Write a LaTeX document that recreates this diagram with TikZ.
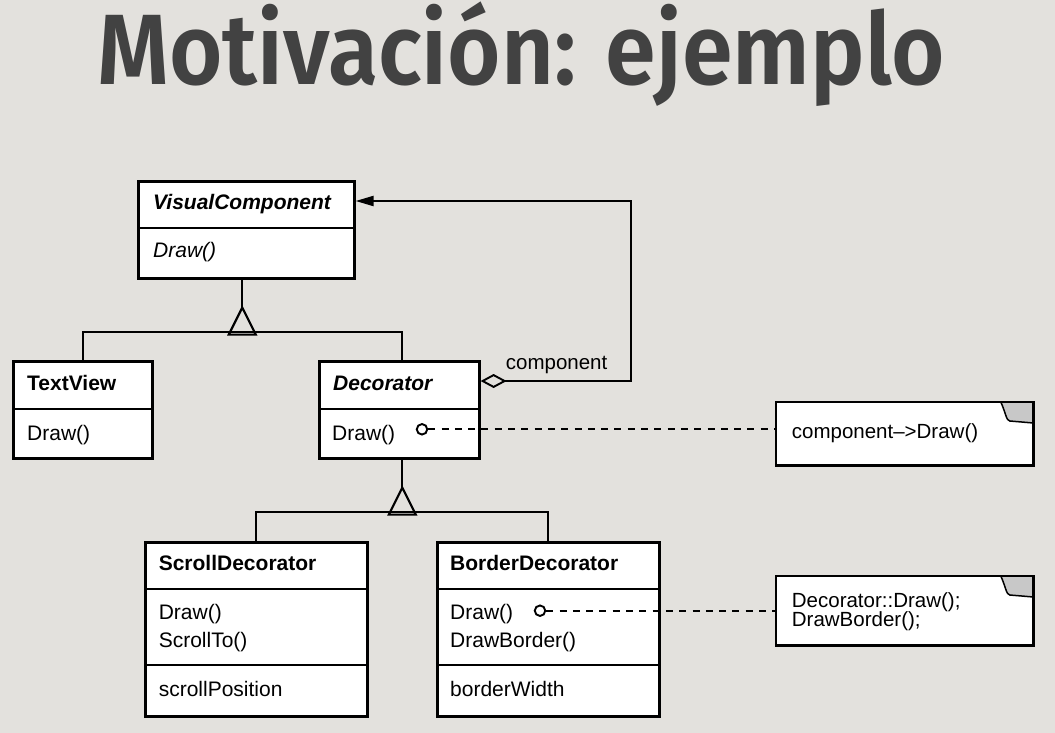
\documentclass[tikz,border=0pt]{standalone}
\usepackage{fontspec}
\setmainfont{Liberation Sans}
\newfontfamily\titlefont{Fira Sans}[BoldFont={Fira Sans SemiBold}]
\usepackage{graphicx}
\usetikzlibrary{arrows.meta,calc}
\definecolor{bg}{HTML}{E3E1DD}
\definecolor{ttl}{HTML}{424242}
\definecolor{fold}{HTML}{C8C8C8}
\begin{document}
\begin{tikzpicture}[x=1pt,y=-1pt,
  box/.style={draw=black, line width=2.6pt, fill=white, inner sep=0pt, anchor=north west},
  notebox/.style={fill=white, inner sep=0pt, anchor=north west},
  sep/.style={line width=1.9pt},
  conn/.style={line width=2.2pt},
  txt/.style={anchor=base west, inner sep=0pt, font=\fontsize{21}{21}\selectfont},
  btxt/.style={txt, font=\fontsize{21}{21}\selectfont\bfseries},
  bitxt/.style={txt, font=\fontsize{21}{21}\selectfont\bfseries\itshape},
  itxt/.style={txt, font=\fontsize{21}{21}\selectfont\itshape},
  ntxt/.style={anchor=base west, inner sep=0pt, font=\fontsize{20.5}{20.5}\selectfont},
  port/.style={circle, draw=black, fill=white, line width=1.9pt, minimum size=10.5pt, inner sep=0pt},
  dashline/.style={line width=2.2pt, dash pattern=on 7pt off 6.3pt},
  foldline/.style={line width=1.5pt},
  noteedge/.style={line width=2.4pt},
]
\useasboundingbox (0,0) rectangle (1055,733);
\fill[bg] (0,0) rectangle (1055,733);

% title
\node[anchor=base west, inner sep=0pt, text=ttl] (title) at (97,84.5)
  {\resizebox{848pt}{\height}{\titlefont\bfseries\fontsize{100}{100}\selectfont Motivación: ejemplo}};

% VisualComponent
\node[box, minimum width=216pt, minimum height=97pt] (vc) at (137,180) {};
\draw[sep] ([yshift=-48pt]vc.north west) -- ([yshift=-48pt]vc.north east);
\node[bitxt] (vct) at (153,209.5) {VisualComponent};
\node[itxt] (vcm) at (153,257.5) {Draw()};

% TextView
\node[box, minimum width=139pt, minimum height=97pt] (tv) at (12,360) {};
\draw[sep] ([yshift=-49pt]tv.north west) -- ([yshift=-49pt]tv.north east);
\node[btxt] (tvt) at (27,390) {TextView};
\node[txt] (tvm) at (27,440) {Draw()};

% Decorator
\node[box, minimum width=160pt, minimum height=97pt] (dec) at (318,360) {};
\draw[sep] ([yshift=-49pt]dec.north west) -- ([yshift=-49pt]dec.north east);
\node[bitxt] (dct) at (333,390) {Decorator};
\node[txt] (dcm) at (332,440) {Draw()};
\node[port] (o1) at (422,429.3) {};

% ScrollDecorator
\node[box, minimum width=222pt, minimum height=174pt] (sd) at (144,541) {};
\draw[sep] ([yshift=-48pt]sd.north west) -- ([yshift=-48pt]sd.north east);
\draw[sep] ([yshift=-124pt]sd.north west) -- ([yshift=-124pt]sd.north east);
\node[btxt] (sdt) at (158.6,570.7) {ScrollDecorator};
\node[txt] (sdm1) at (158.6,619) {Draw()};
\node[txt] (sdm2) at (158.6,647) {ScrollTo()};
\node[txt] (sda) at (158.6,696) {scrollPosition};

% BorderDecorator
\node[box, minimum width=222pt, minimum height=174pt] (bd) at (436,541) {};
\draw[sep] ([yshift=-48pt]bd.north west) -- ([yshift=-48pt]bd.north east);
\draw[sep] ([yshift=-124pt]bd.north west) -- ([yshift=-124pt]bd.north east);
\node[btxt] (bdt) at (450,570.7) {BorderDecorator};
\node[txt] (bdm1) at (450,619) {Draw()};
\node[txt] (bdm2) at (450,647) {DrawBorder()};
\node[txt] (bda) at (450,696) {borderWidth};
\node[port] (o2) at (540,610.7) {};

% notes
\node[notebox, minimum width=257pt, minimum height=63pt] (n1) at (776,402) {};
\fill[fold] ($(n1.north east)+(-32.6,0)$) -- (n1.north east) -- ($(n1.north east)+(0,21)$)
  -- ($(n1.north east)+(-23.6,19)$) .. controls ($(n1.north east)+(-27,19)$) and ($(n1.north east)+(-28,10)$) .. cycle;
\draw[foldline] ($(n1.north east)+(-32.6,0)$) .. controls ($(n1.north east)+(-28,10)$) and ($(n1.north east)+(-27,19)$) .. ($(n1.north east)+(-23.6,19)$) -- ($(n1.north east)+(0,21)$);
\draw[noteedge] (n1.north west) rectangle (n1.south east);
\node[ntxt] (n1t) at (791.7,438.3) {component–>Draw()};

\node[notebox, minimum width=257pt, minimum height=69pt] (n2) at (776,576) {};
\fill[fold] ($(n2.north east)+(-32.6,0)$) -- (n2.north east) -- ($(n2.north east)+(0,21)$)
  -- ($(n2.north east)+(-23.6,19)$) .. controls ($(n2.north east)+(-27,19)$) and ($(n2.north east)+(-28,10)$) .. cycle;
\draw[foldline] ($(n2.north east)+(-32.6,0)$) .. controls ($(n2.north east)+(-28,10)$) and ($(n2.north east)+(-27,19)$) .. ($(n2.north east)+(-23.6,19)$) -- ($(n2.north east)+(0,21)$);
\draw[noteedge] (n2.north west) rectangle (n2.south east);
\node[ntxt] (n2t1) at (791.7,607.3) {Decorator::Draw();};
\node[ntxt] (n2t2) at (791.7,626.7) {DrawBorder();};

% inheritance 1
\draw[conn] ([xshift=-4pt]vc.south) -- ++(0,28) coordinate (a1);
\draw[conn, line join=miter] (a1) -- ++(-13.5,27) -- ++(27,0) -- cycle;
\draw[conn] (tv.north) -- ++(0,-28) -| ([xshift=3pt]dec.north);

% inheritance 2
\draw[conn] ([xshift=3pt]dec.south) -- ++(0,28) coordinate (a2);
\draw[conn, line join=miter] (a2) -- ++(-13.5,27) -- ++(27,0) -- cycle;
\draw[conn] (sd.north) -- ++(0,-29) -| (bd.north);

% aggregation
\coordinate (bend) at (631,201);
\draw[conn, {Diamond[open,length=26pt,width=14pt,line width=1.9pt]}-{Triangle[length=18pt,width=10pt]}]
  ([yshift=-21pt]dec.north east) -| (bend) -- ([yshift=-21pt]vc.north east);
\node[anchor=base west, inner sep=0pt, font=\fontsize{20.5}{20.5}\selectfont] (lbl) at (505.7,369) {component};

% note links
\draw[dashline] (o1) -- (o1 -| n1.west);
\draw[dashline] (o2) -- (o2 -| n2.west);
\end{tikzpicture}
\end{document}
